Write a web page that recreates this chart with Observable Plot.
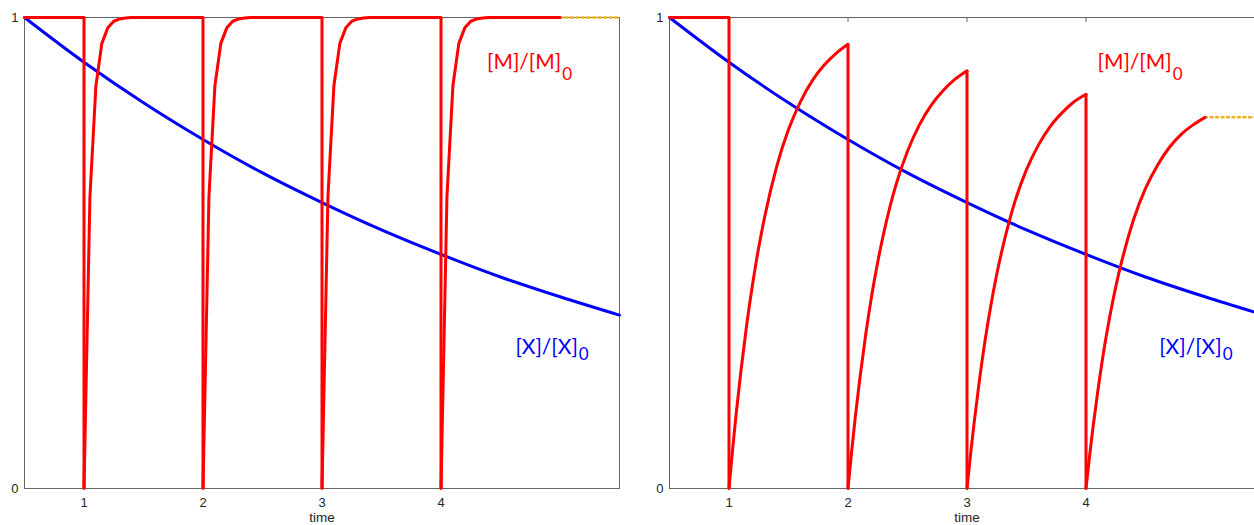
<!DOCTYPE html>
<html>
<head>
<meta charset="utf-8">
<script src="https://cdn.jsdelivr.net/npm/d3@7"></script>
<script src="https://cdn.jsdelivr.net/npm/@observablehq/plot@0.6"></script>
<style>
  html, body { margin: 0; padding: 0; background: #fff; }
  #wrap { position: relative; width: 1254px; height: 525px; overflow: hidden; background: #fff; }
  #left, #right { position: absolute; top: 0; width: 640px; height: 525px; }
  #left { left: 0; }
  #right { left: 645px; }
  #wrap svg { max-width: none !important; }
</style>
</head>
<body>
<div id="wrap"><div id="left"></div><div id="right"></div></div>
<script>
// ---- data ----
const xDomain = [0.5, 5.5];
const tickTimes = [1, 2, 3, 4];
const xTickLabels = ["1", "2", "3", "4"];
const yTicks = [0, 1];
const yTickLabels = ["0", "1"];
const doseTimes = [1, 2, 3, 4];

// [X]/[X]0 (same in both panels)
const blueT = [0.5, 1, 1.5, 2, 2.5, 3, 3.5, 4, 4.5, 5, 5.5];
const blueV = [1, 0.905, 0.819, 0.741, 0.670, 0.607, 0.549, 0.497, 0.449, 0.407, 0.368];

// left panel: fast recovery of [M]/[M]0 after each dose (time since dose, value)
const leftDt = [0, 0.05, 0.1, 0.15, 0.2, 0.25, 0.3, 0.35, 0.4, 0.5, 0.6, 0.8, 1.0];
const leftRecovery = [0, 0.62, 0.855, 0.945, 0.978, 0.992, 0.997, 0.999, 1, 1, 1, 1, 1];
const leftDropTops = [1, 1, 1, 1];
const leftTail = 1;

// right panel: slow recovery after each dose
const rightDt = [0, 0.03, 0.06, 0.1, 0.15, 0.2, 0.25, 0.3, 0.4, 0.5, 0.6, 0.7, 0.8, 0.9, 1.0];
const rightSeg1 = [0, 0.082, 0.158, 0.249, 0.350, 0.437, 0.512, 0.577, 0.683, 0.762, 0.821, 0.866, 0.899, 0.924, 0.943];
const rightSeg2 = [0, 0.077, 0.149, 0.234, 0.329, 0.411, 0.481, 0.542, 0.642, 0.716, 0.772, 0.814, 0.845, 0.869, 0.887];
const rightSeg3 = [0, 0.073, 0.140, 0.221, 0.311, 0.388, 0.455, 0.512, 0.607, 0.677, 0.729, 0.769, 0.798, 0.821, 0.837];
const rightSeg4 = [0, 0.069, 0.132, 0.208, 0.293, 0.365, 0.428, 0.482, 0.571, 0.637, 0.686, 0.724, 0.752, 0.772, 0.788];
const rightDropTops = [1, 0.943, 0.887, 0.837];
const rightTail = 0.788;

// ---- build tables ----
const blue = blueT.map((t, i) => ({t, v: blueV[i]}));

function leftRows() {
  const rows = [{seg: 0, t: 0.5, v: 1}, {seg: 0, t: doseTimes[0], v: 1}];
  doseTimes.forEach((d, k) => leftDt.forEach((dt, i) => rows.push({seg: k + 1, t: d + dt, v: leftRecovery[i]})));
  return rows;
}
function rightRows() {
  const segs = [rightSeg1, rightSeg2, rightSeg3, rightSeg4];
  const rows = [{seg: 0, t: 0.5, v: 1}, {seg: 0, t: doseTimes[0], v: 1}];
  doseTimes.forEach((d, k) => rightDt.forEach((dt, i) => rows.push({seg: k + 1, t: d + dt, v: segs[k][i]})));
  return rows;
}

const H = 525, mTop = 17, mBottom = 37;
const tk = 5 / (H - mTop - mBottom); // 5px inward tick marks

function panel({rows, dropTops, tail, curve, mEnd, xEnd}) {
  const drops = doseTimes.map((t, i) => ({t, top: dropTops[i]}));
  const tailRows = [{t: 5, v: tail}, {t: 5.5, v: tail}];
  const lbl = {fontFamily: "Lato, 'Open Sans', sans-serif", lineAnchor: "bottom"};
  return Plot.plot({
    width: 640, height: H,
    marginLeft: 24, marginRight: 21, marginTop: mTop, marginBottom: mBottom,
    x: {domain: xDomain},
    y: {domain: [0, 1]},
    style: {fontFamily: "'Liberation Sans', Arial, sans-serif", fontSize: "13px", color: "#262626", background: "white", overflow: "visible"},
    marks: [
      Plot.ruleX(tickTimes, {y1: 1 - tk, y2: 1, stroke: "#666"}),
      Plot.ruleX(tickTimes, {y1: 0, y2: tk, stroke: "#666"}),
      Plot.frame({stroke: "#666"}),
      Plot.axisX({ticks: tickTimes, tickFormat: d => xTickLabels[tickTimes.indexOf(d)], tickSize: 0, tickPadding: 9, label: null}),
      Plot.axisY({ticks: yTicks, tickFormat: d => yTickLabels[yTicks.indexOf(d)], tickSize: 0, tickPadding: 6, label: null}),
      Plot.text(["time"], {frameAnchor: "bottom", dy: 33, fontSize: 13.5}),
      Plot.line(blue, {x: "t", y: "v", stroke: "#0000ff", strokeWidth: 3, curve: "monotone-x"}),
      Plot.line(tailRows, {x: "t", y: "v", stroke: "#EDB120", strokeWidth: 2.5, strokeDasharray: "2,3.5"}),
      Plot.ruleX(drops, {x: "t", y1: 0, y2: "top", stroke: "#ff0000", strokeWidth: 3}),
      Plot.line(rows, {x: "t", y: "v", z: "seg", stroke: "#ff0000", strokeWidth: 3, curve, strokeLinejoin: "round"}),
      Plot.text([{t: mEnd, v: 0.89, s: "[M]/[M]"}], {x: "t", y: "v", text: "s", textAnchor: "end", fill: "#ff0000", fontSize: 21, ...lbl}),
      Plot.text([{t: mEnd, v: 0.868, s: "0"}], {x: "t", y: "v", text: "s", textAnchor: "start", dx: 1, fill: "#ff0000", fontSize: 17, ...lbl}),
      Plot.text([{t: xEnd, v: 0.286, s: "[X]/[X]"}], {x: "t", y: "v", text: "s", textAnchor: "end", fill: "#0000ff", fontSize: 21, ...lbl}),
      Plot.text([{t: xEnd, v: 0.272, s: "0"}], {x: "t", y: "v", text: "s", textAnchor: "start", dx: 1, fill: "#0000ff", fontSize: 17, ...lbl})
    ]
  });
}

document.getElementById("left").append(panel({rows: leftRows(), dropTops: leftDropTops, tail: leftTail, curve: "linear", mEnd: 5.01, xEnd: 5.15}));
document.getElementById("right").append(panel({rows: rightRows(), dropTops: rightDropTops, tail: rightTail, curve: "monotone-x", mEnd: 4.72, xEnd: 5.14}));
</script>
</body>
</html>
